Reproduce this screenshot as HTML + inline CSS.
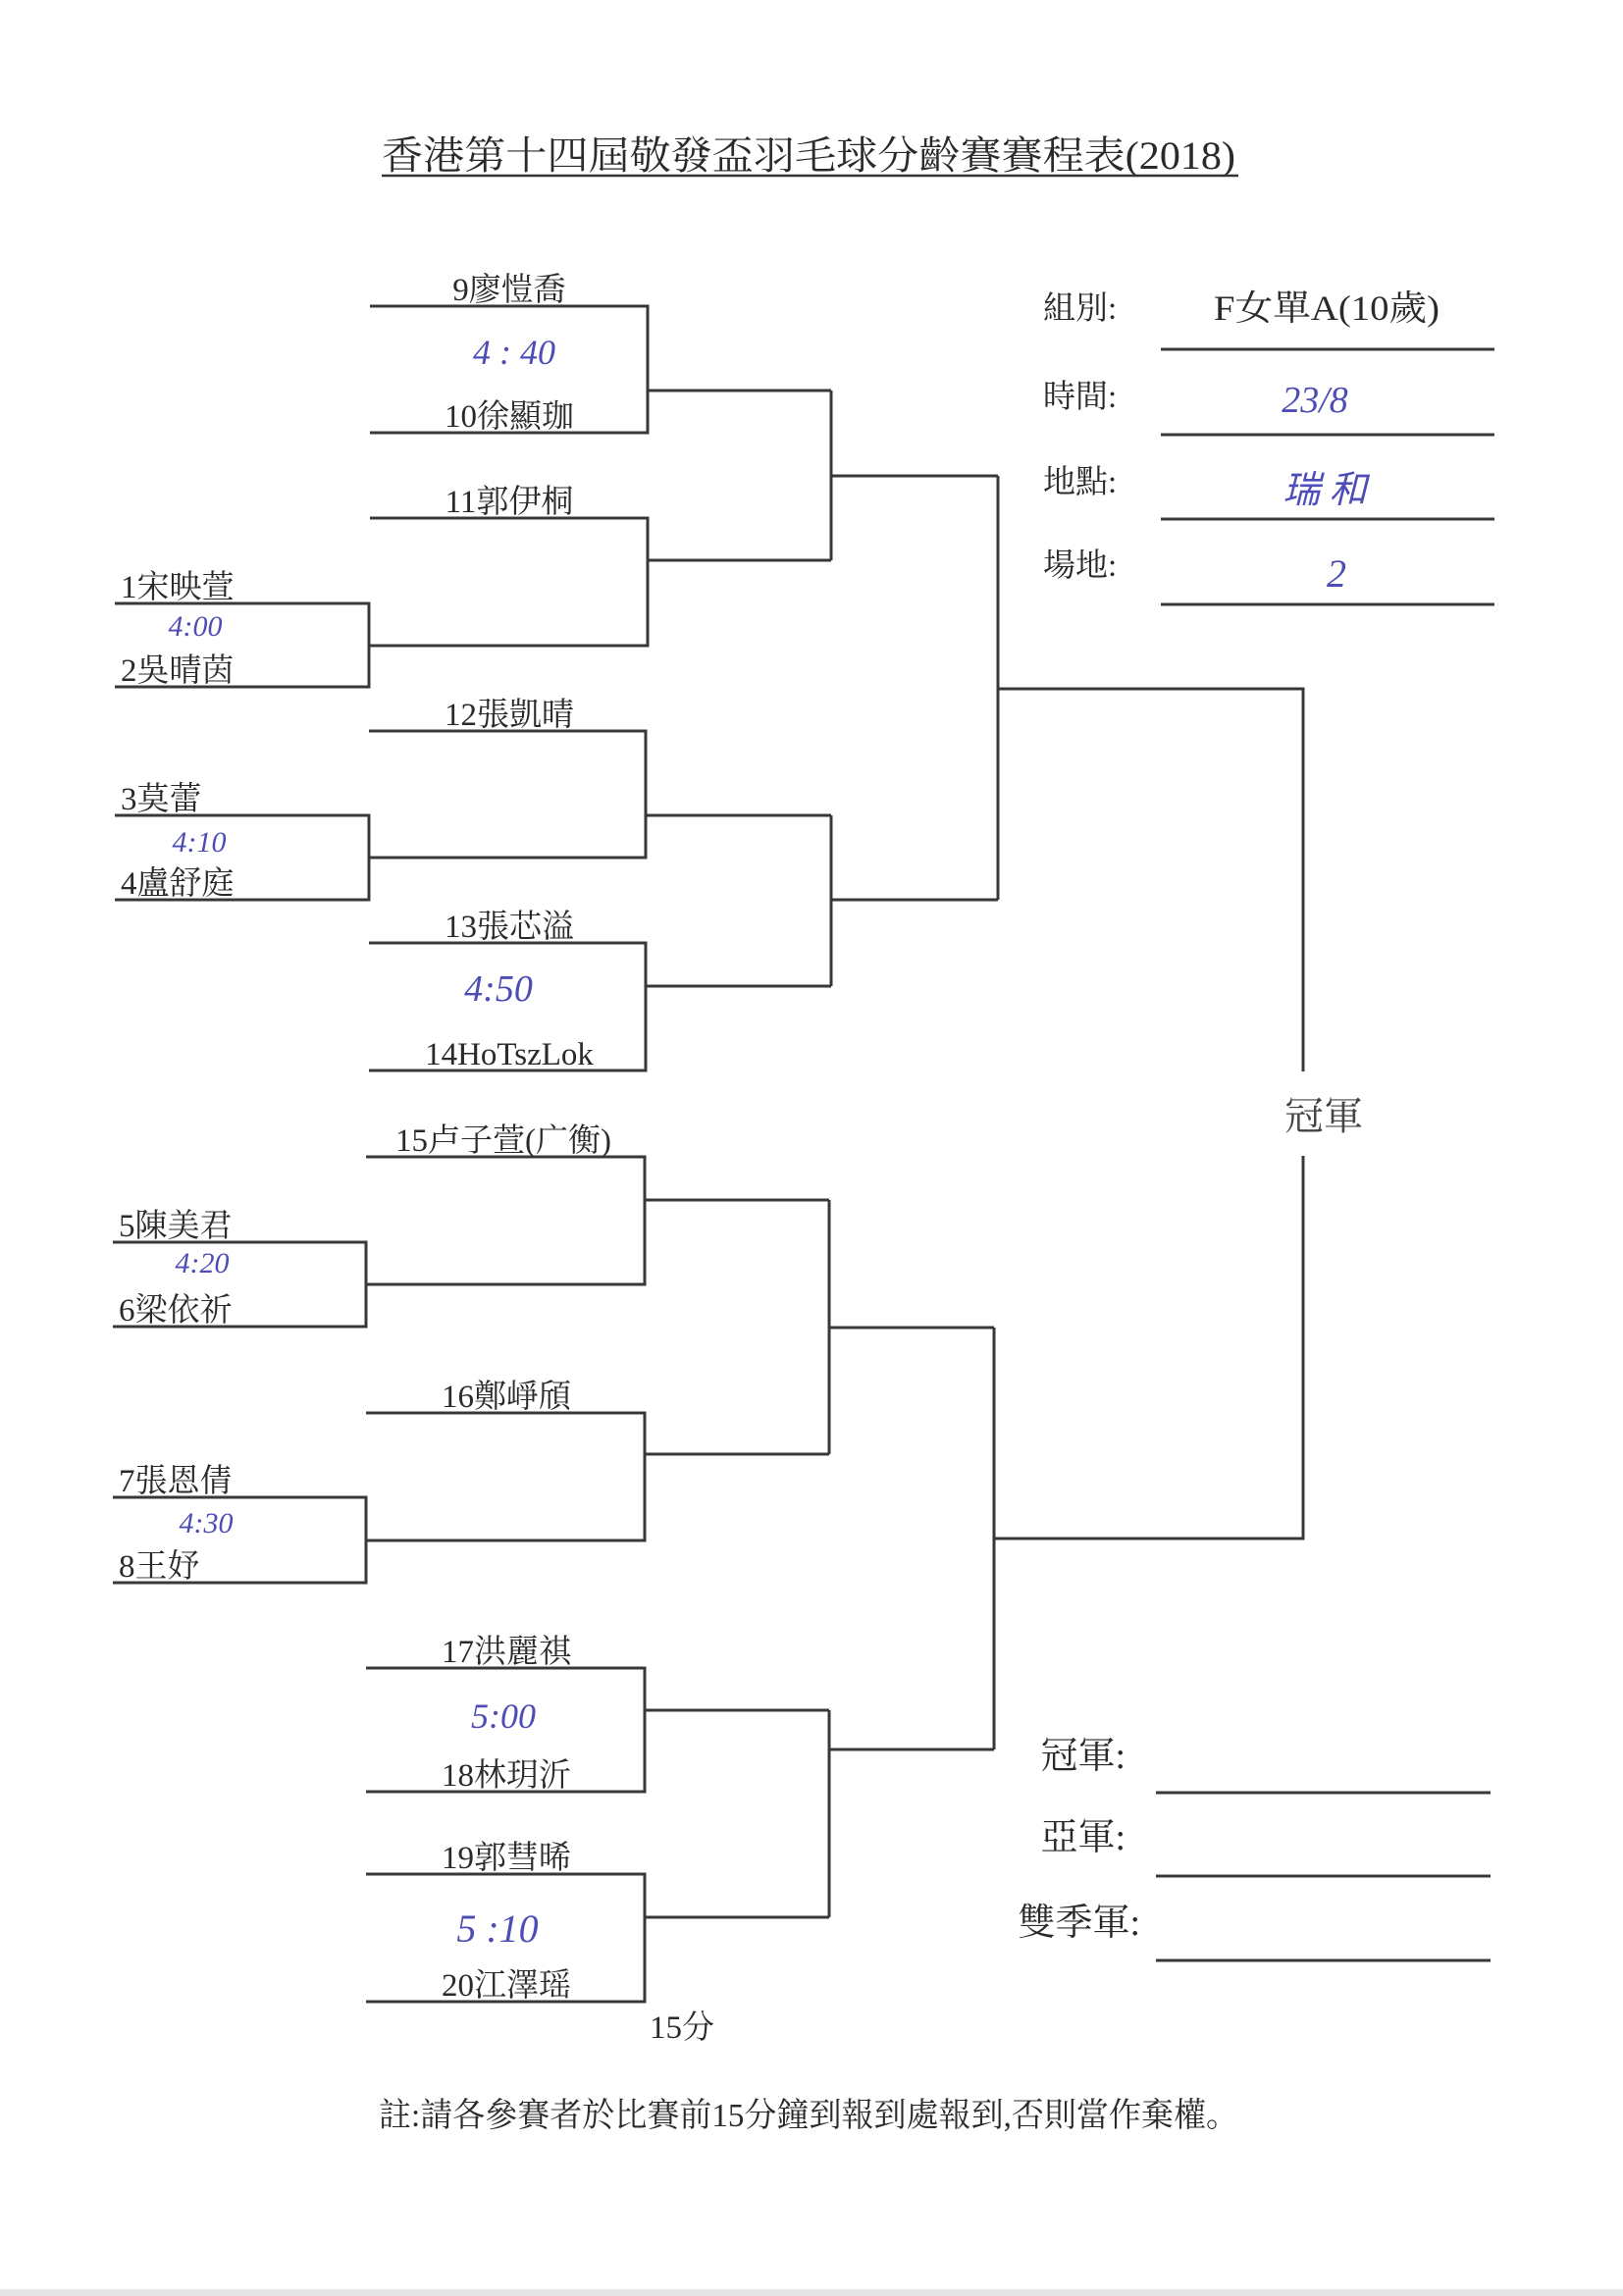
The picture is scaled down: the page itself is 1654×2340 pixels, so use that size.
<!DOCTYPE html>
<html><head><meta charset="utf-8">
<style>
html,body{margin:0;padding:0;background:#fff;}
svg{display:block;}
.t{font-family:"Liberation Serif","Noto Serif CJK SC",serif;fill:#2a2a2a;}
.h{font-family:"Liberation Serif",serif;font-style:italic;fill:#4d4db5;}
</style></head>
<body>
<svg width="1654" height="2340" viewBox="0 0 1654 2340" xmlns="http://www.w3.org/2000/svg">
<rect width="1654" height="2340" fill="#fff"/>
<rect x="0" y="2333" width="1654" height="7" fill="#e6e6e6"/>

<text class="t" x="389" y="172" font-size="40" textLength="870" lengthAdjust="spacingAndGlyphs">香港第十四屆敬發盃羽毛球分齡賽賽程表(2018)</text>
<line x1="389" y1="179" x2="1262" y2="179" stroke="#333" stroke-width="2.5"/>

<g fill="none" stroke="#383838" stroke-width="3">
<polyline points="377,312 660,312 660,441 377,441"/>
<line x1="660" y1="398" x2="847" y2="398"/>
<polyline points="377,528 660,528 660,658 376,658"/>
<line x1="660" y1="571" x2="847" y2="571"/>
<line x1="847" y1="398" x2="847" y2="571"/>
<line x1="847" y1="485" x2="1017" y2="485"/>
<polyline points="117,615 376,615 376,700 117,700"/>
<polyline points="376,745 658,745 658,874 376,874"/>
<polyline points="117,831 376,831 376,917 117,917"/>
<line x1="658" y1="831" x2="847" y2="831"/>
<polyline points="376,961 658,961 658,1091 376,1091"/>
<line x1="658" y1="1005" x2="847" y2="1005"/>
<line x1="847" y1="831" x2="847" y2="1005"/>
<line x1="847" y1="917" x2="1017" y2="917"/>
<line x1="1017" y1="485" x2="1017" y2="917"/>
<polyline points="1017,702 1328,702 1328,1092"/>

<g transform="translate(0,-4)">
<polyline points="373,1183 657,1183 657,1313 373,1313"/>
<polyline points="115,1270 373,1270 373,1356 115,1356"/>
<line x1="657" y1="1227" x2="845" y2="1227"/>
<polyline points="373,1444 657,1444 657,1574 373,1574"/>
<polyline points="115,1530 373,1530 373,1617 115,1617"/>
<line x1="657" y1="1486" x2="845" y2="1486"/>
<line x1="845" y1="1227" x2="845" y2="1486"/>
<line x1="845" y1="1357" x2="1013" y2="1357"/>
<polyline points="373,1704 657,1704 657,1830 373,1830"/>
<line x1="657" y1="1747" x2="845" y2="1747"/>
<polyline points="373,1914 657,1914 657,2044 373,2044"/>
<line x1="657" y1="1958" x2="845" y2="1958"/>
<line x1="845" y1="1747" x2="845" y2="1958"/>
<line x1="845" y1="1787" x2="1013" y2="1787"/>
<line x1="1013" y1="1357" x2="1013" y2="1787"/>
<polyline points="1013,1572 1328,1572 1328,1182"/>
</g>

<line x1="1183" y1="356" x2="1523" y2="356"/>
<line x1="1183" y1="443" x2="1523" y2="443"/>
<line x1="1183" y1="529" x2="1523" y2="529"/>
<line x1="1183" y1="616" x2="1523" y2="616"/>
<line x1="1178" y1="1827" x2="1519" y2="1827"/>
<line x1="1178" y1="1912" x2="1519" y2="1912"/>
<line x1="1178" y1="1998" x2="1519" y2="1998"/>
</g>

<g class="t" font-size="33" text-anchor="middle">
<text x="519" y="306">9廖愷喬</text>
<text x="519" y="435">10徐顯珈</text>
<text x="519" y="522">11郭伊桐</text>
<text x="519" y="739">12張凱晴</text>
<text x="519" y="955">13張芯溢</text>
<text x="519" y="1085">14HoTszLok</text>
<g transform="translate(0,-4)">
<text x="513" y="1177">15卢子萱(广衡)</text>
<text x="516" y="1438">16鄭崢頎</text>
<text x="516" y="1698">17洪麗祺</text>
<text x="516" y="1824">18林玥沂</text>
<text x="516" y="1908">19郭彗晞</text>
<text x="516" y="2038">20江澤瑶</text>
</g>
<text x="695" y="2077">15分</text>
</g>
<g class="t" font-size="33">
<text x="123" y="609">1宋映萱</text>
<text x="123" y="694">2吳晴茵</text>
<text x="123" y="825">3莫蕾</text>
<text x="123" y="911">4盧舒庭</text>
<g transform="translate(0,-4)">
<text x="121" y="1264">5陳美君</text>
<text x="121" y="1350">6梁依祈</text>
<text x="121" y="1524">7張恩倩</text>
<text x="121" y="1611">8王妤</text>
</g>
</g>

<g class="h" text-anchor="middle">
<text x="524" y="371" font-size="36">4 : 40</text>
<text x="199" y="648" font-size="30">4:00</text>
<text x="203" y="868" font-size="30">4:10</text>
<text x="508" y="1020" font-size="38">4:50</text>
<g transform="translate(0,-4)">
<text x="206" y="1301" font-size="30">4:20</text>
<text x="210" y="1566" font-size="30">4:30</text>
<text x="513" y="1765" font-size="36">5:00</text>
<text x="507" y="1983" font-size="40">5 :10</text>
</g>
<text x="1340" y="420" font-size="38">23/8</text>
<text x="1350" y="512" font-size="38">瑞 和</text>
<text x="1362" y="598" font-size="40">2</text>
</g>

<g class="t" font-size="33">
<text x="1063" y="325">組別:</text>
<text x="1063" y="415">時間:</text>
<text x="1063" y="502">地點:</text>
<text x="1063" y="587">場地:</text>
<text x="1237" y="326" font-size="36" textLength="230" lengthAdjust="spacingAndGlyphs">F女單A(10歲)</text>
<text x="1349" y="1151" font-size="40" text-anchor="middle" fill="#444">冠軍</text>
<text x="1147" y="1802" font-size="38" text-anchor="end">冠軍:</text>
<text x="1147" y="1885" font-size="38" text-anchor="end">亞軍:</text>
<text x="1162" y="1972" font-size="38" text-anchor="end">雙季軍:</text>
<text x="386" y="2167" font-size="34" textLength="876" lengthAdjust="spacingAndGlyphs">註:請各參賽者於比賽前15分鐘到報到處報到,否則當作棄權。</text>
</g>
</svg>
</body></html>
